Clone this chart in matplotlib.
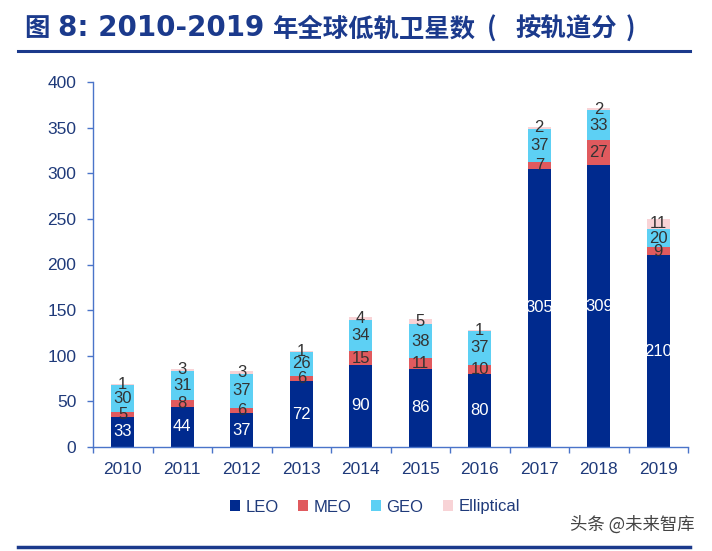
import matplotlib
matplotlib.use("Agg")
import matplotlib.pyplot as plt
import numpy as np

years = ["2010", "2011", "2012", "2013", "2014", "2015", "2016", "2017", "2018", "2019"]
leo = [33, 44, 37, 72, 90, 86, 80, 305, 309, 210]
meo = [5, 8, 6, 6, 15, 11, 10, 7, 27, 9]
geo = [30, 31, 37, 26, 34, 38, 37, 37, 33, 20]
ell = [1, 3, 3, 1, 4, 5, 1, 2, 2, 11]
series_names = ["LEO", "MEO", "GEO", "Elliptical"]
yticks = [0, 50, 100, 150, 200, 250, 300, 350, 400]

colors = ["#002A8E", "#E05A5E", "#5DD0F4", "#F8D3D6"]
label_colors = ["white", "#333333", "#333333", "#333333"]

plt.rcParams['font.family'] = ['Liberation Sans', 'Noto Sans CJK SC', 'DejaVu Sans']

fig = plt.figure(figsize=(7.12, 5.51), dpi=100)
ax = fig.add_axes([93/712, 1-447/551, 595/712, 365/551])

x = np.arange(len(years))
bottom = np.zeros(len(years))
handles = []
for vals, c, lc, name in zip([leo, meo, geo, ell], colors, label_colors, series_names):
    vals = np.array(vals, dtype=float)
    b = ax.bar(x, vals, 0.39, bottom=bottom, color=c, label=name, zorder=2)
    handles.append(b)
    for xi, v, bt in zip(x, vals, bottom):
        ax.text(xi, bt + v/2, f"{int(v)}", ha="center", va="center",
                fontsize=12, color=lc, zorder=3)
    bottom += vals

ax.set_xlim(-0.5, len(years) - 0.5)
ax.set_ylim(0, 400)
ax.set_yticks(yticks)
ax.set_yticklabels([str(t) for t in yticks])
ax.set_xticks(x)
ax.set_xticklabels(years)
ax.set_xticks(np.arange(-0.5, len(years), 1.0), minor=True)
ax.tick_params(axis="x", which="major", length=0, pad=11, labelsize=12.5, labelcolor="#1F3A7A")
ax.tick_params(axis="x", which="minor", length=4, color="#4A74C9", width=1)
ax.tick_params(axis="y", length=4, color="#4A74C9", width=1, pad=8, labelsize=12.5, labelcolor="#1F3A7A")
for s in ["top", "right"]:
    ax.spines[s].set_visible(False)
for s in ["left", "bottom"]:
    ax.spines[s].set_color("#4A74C9")
    ax.spines[s].set_linewidth(1)

leg = fig.legend(handles=handles, labels=series_names, loc="center", bbox_to_anchor=(375/712, 1-507/551),
                 ncol=4, frameon=False, fontsize=12, handlelength=0.6, handleheight=0.6,
                 handletextpad=0.3, columnspacing=1.2)
for t in leg.get_texts():
    t.set_color("#1F3A7A")

# title pieces: (text, x_px, ha, fontsize, family)
title_color = "#1B3A8C"
cjk = ['Noto Sans CJK SC', 'DejaVu Sans']
lat = ['DejaVu Sans', 'Noto Sans CJK SC']
title_parts = [
    ("图", 24, "left", 18.3, cjk),
    ("8: 2010-2019", 58, "left", 20, lat),
    ("年全球低轨卫星数", 272, "left", 18.3, cjk),
    ("(", 492, "center", 18.3, cjk),
    ("按轨道分", 515, "left", 18.3, cjk),
    (")", 630, "center", 18.3, cjk),
]
base_y = 1 - 36.5/551
for txt, px, ha, fs, fam in title_parts:
    fig.text(px/712, base_y, txt, ha=ha, va="baseline", fontsize=fs, fontweight="bold",
             color=title_color, family=fam)

fig.add_artist(plt.Line2D([18/712, 690/712], [1-51/551, 1-51/551], color=title_color, lw=2.2))
fig.add_artist(plt.Line2D([18/712, 690/712], [1-547/551, 1-547/551], color=title_color, lw=2.5))
fig.text(695/712, 1-525/551, "头条 @未来智库", ha="right", va="center", fontsize=12.5,
         color="#444444", family=cjk)

fig.savefig("out.png", dpi=100)
